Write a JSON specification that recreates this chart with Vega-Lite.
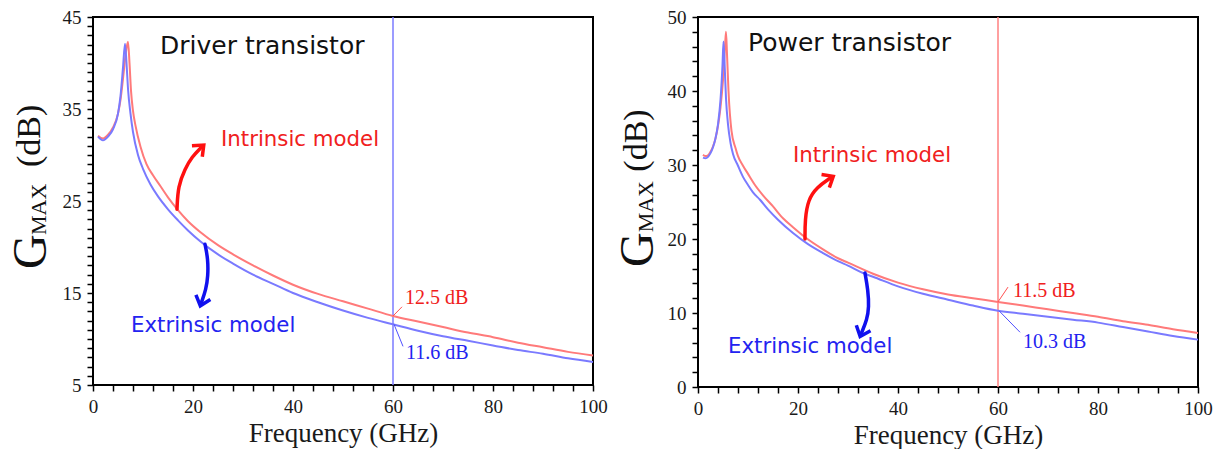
{
  "$schema": "https://vega.github.io/schema/vega-lite/v6.json",
  "padding": {"left": 7, "top": 7, "right": 0, "bottom": 0},
  "spacing": 105,
  "bounds": "flush",
  "config": {
    "view": {"stroke": "#000", "strokeWidth": 2},
    "axis": {"domain": false, "grid": false, "ticks": true, "labelFont": "Liberation Serif", "labelFontSize": 19, "labelColor": "#1a1a1a", "tickColor": "#000", "tickWidth": 1.5, "tickSize": 6, "tickOpacity": 1, "titleFont": "Liberation Serif", "titleFontSize": 27, "titleFontWeight": "normal", "titleColor": "#1a1a1a", "labelOverlap": false, "labelFlush": false}
  },
  "datasets": {
    "driver": [
      {"f": 1, "g": 32.1, "model": "Intrinsic"}, {"f": 2, "g": 31.8, "model": "Intrinsic"}, {"f": 3, "g": 32.2, "model": "Intrinsic"}, {"f": 4, "g": 33.0, "model": "Intrinsic"}, {"f": 5, "g": 34.5, "model": "Intrinsic"}, {"f": 5.5, "g": 36.0, "model": "Intrinsic"}, {"f": 6, "g": 38.3, "model": "Intrinsic"}, {"f": 6.5, "g": 40.8, "model": "Intrinsic"}, {"f": 7, "g": 42.3, "model": "Intrinsic"}, {"f": 7.3, "g": 40.0, "model": "Intrinsic"}, {"f": 7.6, "g": 37.0, "model": "Intrinsic"}, {"f": 8, "g": 34.8, "model": "Intrinsic"}, {"f": 8.5, "g": 33.2, "model": "Intrinsic"}, {"f": 9.5, "g": 30.9, "model": "Intrinsic"}, {"f": 10.7, "g": 29.0, "model": "Intrinsic"}, {"f": 12, "g": 27.8, "model": "Intrinsic"}, {"f": 13.5, "g": 26.6, "model": "Intrinsic"}, {"f": 15, "g": 25.4, "model": "Intrinsic"}, {"f": 17, "g": 24.0, "model": "Intrinsic"}, {"f": 19, "g": 22.8, "model": "Intrinsic"}, {"f": 21.5, "g": 21.6, "model": "Intrinsic"}, {"f": 25, "g": 20.2, "model": "Intrinsic"}, {"f": 28, "g": 19.2, "model": "Intrinsic"}, {"f": 32, "g": 18.0, "model": "Intrinsic"}, {"f": 36, "g": 16.9, "model": "Intrinsic"}, {"f": 40, "g": 15.9, "model": "Intrinsic"}, {"f": 45, "g": 14.9, "model": "Intrinsic"}, {"f": 50, "g": 14.1, "model": "Intrinsic"}, {"f": 55, "g": 13.3, "model": "Intrinsic"}, {"f": 60, "g": 12.5, "model": "Intrinsic"}, {"f": 65, "g": 11.9, "model": "Intrinsic"}, {"f": 70, "g": 11.3, "model": "Intrinsic"}, {"f": 75, "g": 10.7, "model": "Intrinsic"}, {"f": 80, "g": 10.2, "model": "Intrinsic"}, {"f": 85, "g": 9.6, "model": "Intrinsic"}, {"f": 90, "g": 9.1, "model": "Intrinsic"}, {"f": 95, "g": 8.6, "model": "Intrinsic"}, {"f": 100, "g": 8.2, "model": "Intrinsic"},
      {"f": 1, "g": 32.0, "model": "Extrinsic"}, {"f": 2, "g": 31.6, "model": "Extrinsic"}, {"f": 3, "g": 32.0, "model": "Extrinsic"}, {"f": 4, "g": 32.8, "model": "Extrinsic"}, {"f": 5, "g": 34.5, "model": "Extrinsic"}, {"f": 5.5, "g": 36.4, "model": "Extrinsic"}, {"f": 6, "g": 39.5, "model": "Extrinsic"}, {"f": 6.4, "g": 42.1, "model": "Extrinsic"}, {"f": 6.7, "g": 40.0, "model": "Extrinsic"}, {"f": 7, "g": 37.2, "model": "Extrinsic"}, {"f": 7.5, "g": 34.5, "model": "Extrinsic"}, {"f": 8, "g": 32.5, "model": "Extrinsic"}, {"f": 9, "g": 30.0, "model": "Extrinsic"}, {"f": 10, "g": 28.5, "model": "Extrinsic"}, {"f": 11.5, "g": 26.8, "model": "Extrinsic"}, {"f": 13, "g": 25.5, "model": "Extrinsic"}, {"f": 15, "g": 24.1, "model": "Extrinsic"}, {"f": 17, "g": 22.9, "model": "Extrinsic"}, {"f": 19, "g": 21.8, "model": "Extrinsic"}, {"f": 21.5, "g": 20.6, "model": "Extrinsic"}, {"f": 25, "g": 19.2, "model": "Extrinsic"}, {"f": 28, "g": 18.2, "model": "Extrinsic"}, {"f": 32, "g": 17.0, "model": "Extrinsic"}, {"f": 36, "g": 16.0, "model": "Extrinsic"}, {"f": 40, "g": 15.0, "model": "Extrinsic"}, {"f": 45, "g": 14.0, "model": "Extrinsic"}, {"f": 50, "g": 13.1, "model": "Extrinsic"}, {"f": 55, "g": 12.3, "model": "Extrinsic"}, {"f": 60, "g": 11.6, "model": "Extrinsic"}, {"f": 65, "g": 10.9, "model": "Extrinsic"}, {"f": 70, "g": 10.3, "model": "Extrinsic"}, {"f": 75, "g": 9.8, "model": "Extrinsic"}, {"f": 80, "g": 9.3, "model": "Extrinsic"}, {"f": 85, "g": 8.8, "model": "Extrinsic"}, {"f": 90, "g": 8.4, "model": "Extrinsic"}, {"f": 95, "g": 7.9, "model": "Extrinsic"}, {"f": 100, "g": 7.5, "model": "Extrinsic"}
    ],
    "power": [
      {"f": 1, "g": 31.4, "model": "Intrinsic"}, {"f": 1.5, "g": 31.2, "model": "Intrinsic"}, {"f": 2, "g": 31.3, "model": "Intrinsic"}, {"f": 2.5, "g": 31.8, "model": "Intrinsic"}, {"f": 3, "g": 32.5, "model": "Intrinsic"}, {"f": 3.5, "g": 33.6, "model": "Intrinsic"}, {"f": 4, "g": 35.3, "model": "Intrinsic"}, {"f": 4.5, "g": 37.8, "model": "Intrinsic"}, {"f": 5, "g": 41.5, "model": "Intrinsic"}, {"f": 5.4, "g": 46.0, "model": "Intrinsic"}, {"f": 5.6, "g": 48.0, "model": "Intrinsic"}, {"f": 5.8, "g": 45.0, "model": "Intrinsic"}, {"f": 6.1, "g": 40.0, "model": "Intrinsic"}, {"f": 6.7, "g": 34.6, "model": "Intrinsic"}, {"f": 7.5, "g": 32.3, "model": "Intrinsic"}, {"f": 8, "g": 31.2, "model": "Intrinsic"}, {"f": 9, "g": 29.9, "model": "Intrinsic"}, {"f": 10, "g": 28.8, "model": "Intrinsic"}, {"f": 11.5, "g": 27.2, "model": "Intrinsic"}, {"f": 13, "g": 25.9, "model": "Intrinsic"}, {"f": 15, "g": 24.4, "model": "Intrinsic"}, {"f": 17, "g": 22.8, "model": "Intrinsic"}, {"f": 19, "g": 21.6, "model": "Intrinsic"}, {"f": 21.7, "g": 20.1, "model": "Intrinsic"}, {"f": 25, "g": 18.6, "model": "Intrinsic"}, {"f": 28, "g": 17.4, "model": "Intrinsic"}, {"f": 30, "g": 16.8, "model": "Intrinsic"}, {"f": 35, "g": 15.3, "model": "Intrinsic"}, {"f": 40, "g": 14.1, "model": "Intrinsic"}, {"f": 45, "g": 13.2, "model": "Intrinsic"}, {"f": 50, "g": 12.5, "model": "Intrinsic"}, {"f": 55, "g": 12.0, "model": "Intrinsic"}, {"f": 60, "g": 11.5, "model": "Intrinsic"}, {"f": 65, "g": 11.0, "model": "Intrinsic"}, {"f": 70, "g": 10.5, "model": "Intrinsic"}, {"f": 75, "g": 10.0, "model": "Intrinsic"}, {"f": 80, "g": 9.5, "model": "Intrinsic"}, {"f": 85, "g": 8.9, "model": "Intrinsic"}, {"f": 90, "g": 8.4, "model": "Intrinsic"}, {"f": 95, "g": 7.8, "model": "Intrinsic"}, {"f": 100, "g": 7.3, "model": "Intrinsic"},
      {"f": 1, "g": 31.0, "model": "Extrinsic"}, {"f": 1.5, "g": 30.9, "model": "Extrinsic"}, {"f": 2, "g": 31.1, "model": "Extrinsic"}, {"f": 2.5, "g": 31.6, "model": "Extrinsic"}, {"f": 3, "g": 32.4, "model": "Extrinsic"}, {"f": 3.5, "g": 33.6, "model": "Extrinsic"}, {"f": 4, "g": 35.5, "model": "Extrinsic"}, {"f": 4.5, "g": 38.8, "model": "Extrinsic"}, {"f": 4.9, "g": 43.5, "model": "Extrinsic"}, {"f": 5.1, "g": 46.7, "model": "Extrinsic"}, {"f": 5.3, "g": 44.0, "model": "Extrinsic"}, {"f": 5.6, "g": 39.0, "model": "Extrinsic"}, {"f": 6, "g": 35.5, "model": "Extrinsic"}, {"f": 6.5, "g": 33.0, "model": "Extrinsic"}, {"f": 7, "g": 31.5, "model": "Extrinsic"}, {"f": 8, "g": 29.9, "model": "Extrinsic"}, {"f": 9, "g": 28.4, "model": "Extrinsic"}, {"f": 10, "g": 27.3, "model": "Extrinsic"}, {"f": 11, "g": 26.3, "model": "Extrinsic"}, {"f": 12.4, "g": 25.3, "model": "Extrinsic"}, {"f": 14, "g": 24.0, "model": "Extrinsic"}, {"f": 16, "g": 22.6, "model": "Extrinsic"}, {"f": 19, "g": 20.8, "model": "Extrinsic"}, {"f": 22, "g": 19.3, "model": "Extrinsic"}, {"f": 25, "g": 18.1, "model": "Extrinsic"}, {"f": 28, "g": 17.0, "model": "Extrinsic"}, {"f": 30, "g": 16.4, "model": "Extrinsic"}, {"f": 33, "g": 15.4, "model": "Extrinsic"}, {"f": 35, "g": 14.9, "model": "Extrinsic"}, {"f": 40, "g": 13.6, "model": "Extrinsic"}, {"f": 45, "g": 12.6, "model": "Extrinsic"}, {"f": 50, "g": 11.8, "model": "Extrinsic"}, {"f": 55, "g": 11.0, "model": "Extrinsic"}, {"f": 60, "g": 10.3, "model": "Extrinsic"}, {"f": 65, "g": 9.9, "model": "Extrinsic"}, {"f": 70, "g": 9.5, "model": "Extrinsic"}, {"f": 75, "g": 9.1, "model": "Extrinsic"}, {"f": 80, "g": 8.7, "model": "Extrinsic"}, {"f": 85, "g": 8.1, "model": "Extrinsic"}, {"f": 90, "g": 7.5, "model": "Extrinsic"}, {"f": 95, "g": 6.9, "model": "Extrinsic"}, {"f": 100, "g": 6.4, "model": "Extrinsic"}
    ]
  },
  "hconcat": [
    {
      "width": 500,
      "height": 368,
      "encoding": {
        "x": {"field": "f", "type": "quantitative", "scale": {"domain": [0, 100], "nice": false, "zero": false},
          "axis": {"values": [0, 4, 8, 12, 16, 20, 24, 28, 32, 36, 40, 44, 48, 52, 56, 60, 64, 68, 72, 76, 80, 84, 88, 92, 96, 100], "labelExpr": "datum.value % 20 === 0 ? datum.label : ''", "title": "Frequency (GHz)", "labelPadding": 6, "titlePadding": 4, "ticks": true}},
        "y": {"field": "g", "type": "quantitative", "scale": {"domain": [5, 45], "nice": false, "zero": false},
          "axis": {"values": [5, 6, 7, 8, 9, 10, 11, 12, 13, 14, 15, 16, 17, 18, 19, 20, 21, 22, 23, 24, 25, 26, 27, 28, 29, 30, 31, 32, 33, 34, 35, 36, 37, 38, 39, 40, 41, 42, 43, 44, 45], "labelExpr": "(datum.value - 5) % 10 === 0 ? datum.label : ''", "title": null, "labelPadding": 6, "ticks": true}}
      },
      "layer": [
        {"data": {"values": [{"f": 60, "g": 5, "g2": 45}]}, "mark": {"type": "rule", "color": "#7b7bff", "strokeWidth": 1.5}, "encoding": {"y2": {"field": "g2"}}},
        {"data": {"name": "driver"}, "mark": {"type": "line", "strokeWidth": 2, "interpolate": "monotone"},
          "encoding": {"color": {"field": "model", "type": "nominal", "scale": {"domain": ["Intrinsic", "Extrinsic"], "range": ["#ff7a7a", "#7a7aff"]}, "legend": null}}},
        {"data": {"values": [{"f": 60, "g": 12.5}, {"f": 61.8, "g": 13.5}]}, "mark": {"type": "line", "color": "#ff5050", "strokeWidth": 1}, "encoding": {}},
        {"data": {"values": [{"f": 60.2, "g": 11.6}, {"f": 62, "g": 9.2}]}, "mark": {"type": "line", "color": "#5050ff", "strokeWidth": 1}, "encoding": {}},
        {"data": {"values": [{"i": 1, "f": 16.8, "g": 24.1}, {"i": 2, "f": 17.0, "g": 26.6}, {"i": 3, "f": 18.4, "g": 28.5}, {"i": 4, "f": 19.8, "g": 29.8}, {"i": 5, "f": 21.6, "g": 30.8}]},
          "mark": {"type": "line", "color": "#ff1010", "strokeWidth": 3.5, "interpolate": "basis", "strokeCap": "round"}, "encoding": {"order": {"field": "i"}}},
        {"data": {"values": [{"f": 21.6, "g": 30.8}]}, "mark": {"type": "point", "shape": "M-1,0.7L0,-0.5L1,0.7", "filled": false, "color": "#ff1010", "strokeWidth": 3.5, "size": 230, "angle": 47, "opacity": 1}},
        {"data": {"values": [{"i": 1, "f": 22.4, "g": 20.3}, {"i": 2, "f": 23.0, "g": 18.7}, {"i": 3, "f": 23.0, "g": 16.8}, {"i": 4, "f": 22.6, "g": 15.4}, {"i": 5, "f": 21.7, "g": 14.0}]},
          "mark": {"type": "line", "color": "#1010ee", "strokeWidth": 3.5, "interpolate": "basis", "strokeCap": "round"}, "encoding": {"order": {"field": "i"}}},
        {"data": {"values": [{"f": 21.7, "g": 14.0}]}, "mark": {"type": "point", "shape": "M-1,0.7L0,-0.5L1,0.7", "filled": false, "color": "#1010ee", "strokeWidth": 3.5, "size": 230, "angle": 198, "opacity": 1}},
        {"data": {"values": [{"f": 13.4, "g": 41.8, "t": "Driver transistor"}]}, "mark": {"type": "text", "font": "DejaVu Sans", "fontSize": 25, "color": "#111", "align": "left", "baseline": "middle"}, "encoding": {"text": {"field": "t"}}},
        {"data": {"values": [{"f": 25.6, "g": 31.6, "t": "Intrinsic model"}]}, "mark": {"type": "text", "font": "DejaVu Sans", "fontSize": 21.3, "color": "#f02020", "align": "left", "baseline": "middle"}, "encoding": {"text": {"field": "t"}}},
        {"data": {"values": [{"f": 7.6, "g": 11.4, "t": "Extrinsic model"}]}, "mark": {"type": "text", "font": "DejaVu Sans", "fontSize": 21.3, "color": "#2323f0", "align": "left", "baseline": "middle"}, "encoding": {"text": {"field": "t"}}},
        {"data": {"values": [{"f": 62.4, "g": 14.5, "t": "12.5 dB"}]}, "mark": {"type": "text", "font": "Liberation Serif", "fontSize": 20, "color": "#f02020", "align": "left", "baseline": "middle"}, "encoding": {"text": {"field": "t"}}},
        {"data": {"values": [{"f": 62.6, "g": 8.5, "t": "11.6 dB"}]}, "mark": {"type": "text", "font": "Liberation Serif", "fontSize": 20, "color": "#2323f0", "align": "left", "baseline": "middle"}, "encoding": {"text": {"field": "t"}}},
        {"data": {"values": [{"f": -9.4, "g": 17.6, "t": "G"}]}, "mark": {"type": "text", "font": "Liberation Serif", "fontSize": 48, "color": "#111", "align": "left", "baseline": "alphabetic", "angle": 270}, "encoding": {"text": {"field": "t"}}},
        {"data": {"values": [{"f": -9.4, "g": 21.3, "t": "MAX"}]}, "mark": {"type": "text", "font": "Liberation Serif", "fontSize": 22, "color": "#111", "align": "left", "baseline": "alphabetic", "angle": 270}, "encoding": {"text": {"field": "t"}}},
        {"data": {"values": [{"f": -10.6, "g": 28.7, "t": "(dB)"}]}, "mark": {"type": "text", "font": "Liberation Serif", "fontSize": 34, "color": "#111", "align": "left", "baseline": "alphabetic", "angle": 270}, "encoding": {"text": {"field": "t"}}}
      ]
    },
    {
      "width": 500,
      "height": 370,
      "encoding": {
        "x": {"field": "f", "type": "quantitative", "scale": {"domain": [0, 100], "nice": false, "zero": false},
          "axis": {"values": [0, 4, 8, 12, 16, 20, 24, 28, 32, 36, 40, 44, 48, 52, 56, 60, 64, 68, 72, 76, 80, 84, 88, 92, 96, 100], "labelExpr": "datum.value % 20 === 0 ? datum.label : ''", "title": "Frequency (GHz)", "labelPadding": 6, "titlePadding": 4, "ticks": true}},
        "y": {"field": "g", "type": "quantitative", "scale": {"domain": [0, 50], "nice": false, "zero": false},
          "axis": {"values": [0, 2, 4, 6, 8, 10, 12, 14, 16, 18, 20, 22, 24, 26, 28, 30, 32, 34, 36, 38, 40, 42, 44, 46, 48, 50], "labelExpr": "datum.value % 10 === 0 ? datum.label : ''", "title": null, "labelPadding": 6, "ticks": true}}
      },
      "layer": [
        {"data": {"values": [{"f": 60, "g": 0, "g2": 50}]}, "mark": {"type": "rule", "color": "#ff8080", "strokeWidth": 1.5}, "encoding": {"y2": {"field": "g2"}}},
        {"data": {"name": "power"}, "mark": {"type": "line", "strokeWidth": 2, "interpolate": "monotone"},
          "encoding": {"color": {"field": "model", "type": "nominal", "scale": {"domain": ["Intrinsic", "Extrinsic"], "range": ["#ff7a7a", "#7a7aff"]}, "legend": null}}},
        {"data": {"values": [{"f": 60, "g": 11.5}, {"f": 62, "g": 13.5}]}, "mark": {"type": "line", "color": "#ff5050", "strokeWidth": 1}, "encoding": {}},
        {"data": {"values": [{"f": 60.2, "g": 10.3}, {"f": 64.4, "g": 7.4}]}, "mark": {"type": "line", "color": "#5050ff", "strokeWidth": 1}, "encoding": {}},
        {"data": {"values": [{"i": 1, "f": 21.4, "g": 20.0}, {"i": 2, "f": 21.4, "g": 22.6}, {"i": 3, "f": 22.0, "g": 25.3}, {"i": 4, "f": 23.8, "g": 27.0}, {"i": 5, "f": 26.4, "g": 28.2}]},
          "mark": {"type": "line", "color": "#ff1010", "strokeWidth": 3.5, "interpolate": "basis", "strokeCap": "round"}, "encoding": {"order": {"field": "i"}}},
        {"data": {"values": [{"f": 26.4, "g": 28.2}]}, "mark": {"type": "point", "shape": "M-1,0.7L0,-0.5L1,0.7", "filled": false, "color": "#ff1010", "strokeWidth": 3.5, "size": 230, "angle": 59, "opacity": 1}},
        {"data": {"values": [{"i": 1, "f": 33.4, "g": 15.4}, {"i": 2, "f": 34.0, "g": 13.1}, {"i": 3, "f": 34.2, "g": 10.8}, {"i": 4, "f": 33.8, "g": 9.1}, {"i": 5, "f": 32.7, "g": 7.3}]},
          "mark": {"type": "line", "color": "#1010ee", "strokeWidth": 3.5, "interpolate": "basis", "strokeCap": "round"}, "encoding": {"order": {"field": "i"}}},
        {"data": {"values": [{"f": 32.7, "g": 7.3}]}, "mark": {"type": "point", "shape": "M-1,0.7L0,-0.5L1,0.7", "filled": false, "color": "#1010ee", "strokeWidth": 3.5, "size": 230, "angle": 201, "opacity": 1}},
        {"data": {"values": [{"f": 10, "g": 46.5, "t": "Power transistor"}]}, "mark": {"type": "text", "font": "DejaVu Sans", "fontSize": 25, "color": "#111", "align": "left", "baseline": "middle"}, "encoding": {"text": {"field": "t"}}},
        {"data": {"values": [{"f": 19, "g": 31.2, "t": "Intrinsic model"}]}, "mark": {"type": "text", "font": "DejaVu Sans", "fontSize": 21.3, "color": "#f02020", "align": "left", "baseline": "middle"}, "encoding": {"text": {"field": "t"}}},
        {"data": {"values": [{"f": 6, "g": 5.4, "t": "Extrinsic model"}]}, "mark": {"type": "text", "font": "DejaVu Sans", "fontSize": 21.3, "color": "#2323f0", "align": "left", "baseline": "middle"}, "encoding": {"text": {"field": "t"}}},
        {"data": {"values": [{"f": 63, "g": 13.0, "t": "11.5 dB"}]}, "mark": {"type": "text", "font": "Liberation Serif", "fontSize": 20, "color": "#f02020", "align": "left", "baseline": "middle"}, "encoding": {"text": {"field": "t"}}},
        {"data": {"values": [{"f": 65, "g": 6.1, "t": "10.3 dB"}]}, "mark": {"type": "text", "font": "Liberation Serif", "fontSize": 20, "color": "#2323f0", "align": "left", "baseline": "middle"}, "encoding": {"text": {"field": "t"}}},
        {"data": {"values": [{"f": -9, "g": 16.2, "t": "G"}]}, "mark": {"type": "text", "font": "Liberation Serif", "fontSize": 48, "color": "#111", "align": "left", "baseline": "alphabetic", "angle": 270}, "encoding": {"text": {"field": "t"}}},
        {"data": {"values": [{"f": -9, "g": 20.9, "t": "MAX"}]}, "mark": {"type": "text", "font": "Liberation Serif", "fontSize": 22, "color": "#111", "align": "left", "baseline": "alphabetic", "angle": 270}, "encoding": {"text": {"field": "t"}}},
        {"data": {"values": [{"f": -10.2, "g": 29.1, "t": "(dB)"}]}, "mark": {"type": "text", "font": "Liberation Serif", "fontSize": 34, "color": "#111", "align": "left", "baseline": "alphabetic", "angle": 270}, "encoding": {"text": {"field": "t"}}}
      ]
    }
  ]
}
